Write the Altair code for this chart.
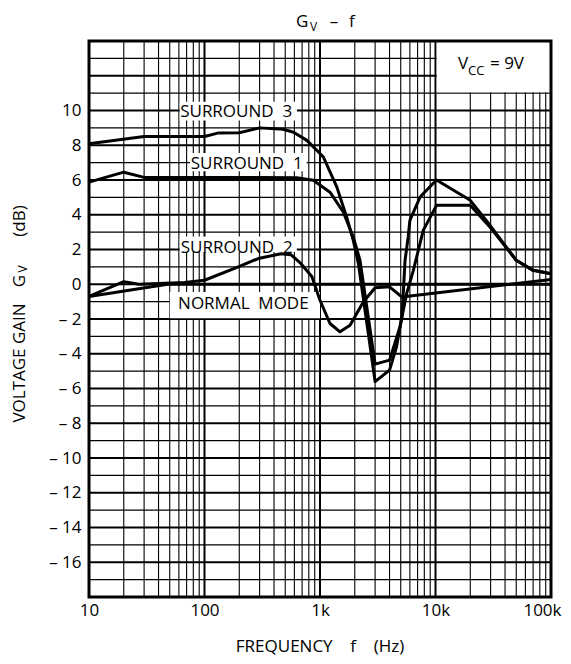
import altair as alt
import pandas as pd

FONT = "Open Sans"

# ---------------- data ----------------
s3_f = [10, 30, 100, 130, 200, 300, 480, 590, 770, 1070, 1400, 1700, 1940, 2150,
        3000, 4000, 4600, 5100, 5260, 5450, 5800, 6000, 7350, 10200, 20000, 30000,
        50000, 70000, 100000]
s3_v = [8.08, 8.5, 8.5, 8.7, 8.72, 9.0, 8.92, 8.75, 8.28, 7.32, 5.59, 3.87, 2.53, 1.19,
        -5.6, -4.94, -3.6, -1.9, -0.53, 1.38, 2.72, 3.68, 5.02, 6.0, 4.83, 3.35,
        1.38, 0.8, 0.61]

s1_f = [10, 20, 30, 100, 300, 630, 875, 1220, 1590, 1940, 2220, 3000, 4000, 4930,
        5630, 6430, 7830, 10200, 20000, 29600, 50000, 70000, 100000]
s1_v = [5.88, 6.45, 6.15, 6.15, 6.15, 6.13, 5.98, 5.3, 4.16, 2.72, 1.38, -4.6, -4.37,
        -2.45, -0.53, 0.8, 3.1, 4.54, 4.54, 3.29, 1.38, 0.8, 0.61]

s2_f = [10, 20, 27, 67, 100, 196, 292, 460, 560, 670, 850, 1000, 1220, 1490, 1820,
        2370, 3000, 4000, 5100, 100000]
s2_v = [-0.7, 0.15, 0.0, 0.1, 0.23, 1.0, 1.48, 1.76, 1.7, 1.25, 0.45, -0.92, -2.26,
        -2.74, -2.36, -1.02, -0.2, -0.15, -0.73, 0.27]

nm_f = [10, 48, 100000]
nm_v = [-0.7, 0.0, 0.0]

x_ticks = [10, 100, 1000, 10000, 100000]
y_ticks = [-16, -14, -12, -10, -8, -6, -4, -2, 0, 2, 4, 6, 8, 10]

decades = [10, 100, 1000, 10000]
mantissas = [1, 2, 3, 4, 5, 6, 7, 8, 9]
y_grid = list(range(-17, 14))

# curve labels: text, centre freq, centre gain, box (f0, f1, v0, v1)
lab_text = ["SURROUND\u00a0\u00a03", "SURROUND\u00a0\u00a01", "SURROUND\u00a0\u00a02", "NORMAL\u00a0\u00a0MODE"]
lab_f = [188, 232, 190, 217]
lab_v = [10.0, 7.0, 2.15, -1.1]
box_f0 = [61, 75, 61, 50]
box_f1 = [632, 766, 630, 1000]
box_v0 = [9.43, 6.5, 1.85, -1.95]
box_v1 = [10.5, 7.55, 2.75, -0.45]

# ---------------- tables ----------------
curves = pd.concat([
    pd.DataFrame({"f": s3_f, "v": s3_v, "s": "S3"}),
    pd.DataFrame({"f": s1_f, "v": s1_v, "s": "S1"}),
    pd.DataFrame({"f": s2_f, "v": s2_v, "s": "S2"}),
    pd.DataFrame({"f": nm_f, "v": nm_v, "s": "NM"}),
], ignore_index=True)
curves["i"] = range(len(curves))

gx_vals, gx_w = [], []
for d in decades:
    for m in mantissas:
        gx_vals.append(d * m)
        gx_w.append(2.0 if m == 1 else 1.1)
gx = pd.DataFrame({"f": gx_vals, "w": gx_w})
gy = pd.DataFrame({"v": y_grid, "w": [2.0 if v % 2 == 0 else 1.1 for v in y_grid]})

labels = pd.DataFrame({"t": lab_text, "f": lab_f, "v": lab_v,
                       "f0": box_f0, "f1": box_f1, "v0": box_v0, "v1": box_v1})
vcc_box = pd.DataFrame({"f0": [10250], "f1": [100000], "v0": [11.05], "v1": [14]})
frame = pd.DataFrame({"f0": [10], "f1": [100000], "v0": [-18], "v1": [14]})

xs = alt.Scale(type="log", domain=[10, 100000], nice=False)
ys = alt.Scale(domain=[-18, 14], nice=False)

x_axis = alt.Axis(values=x_ticks, grid=False, ticks=False, domain=False, title=None,
                  labelFont=FONT, labelFontSize=17, labelColor="black", labelPadding=5,
                  labelFlush=False,
                  labelAlign={"condition": {"test": "datum.value == 100000", "value": "right"},
                              "value": "center"},
                  labelOffset={"condition": {"test": "datum.value == 100000", "value": 10},
                               "value": 0},
                  labelExpr="datum.value >= 1000 ? (datum.value/1000) + 'k' : datum.value")
y_axis = alt.Axis(values=y_ticks, grid=False, ticks=False, domain=False, title=None,
                  labelFont=FONT, labelFontSize=17, labelColor="black", labelPadding=8,
                  labelExpr="datum.value < 0 ? '\u2013 ' + abs(datum.value) : datum.value")

base_x = alt.X("f:Q", scale=xs, axis=x_axis)
base_y = alt.Y("v:Q", scale=ys, axis=y_axis)

grid_v = alt.Chart(gx).mark_rule(color="black").encode(
    x=alt.X("f:Q", scale=xs, axis=x_axis),
    strokeWidth=alt.StrokeWidth("w:Q", scale=None))
grid_h = alt.Chart(gy).mark_rule(color="black").encode(
    y=alt.Y("v:Q", scale=ys, axis=y_axis),
    strokeWidth=alt.StrokeWidth("w:Q", scale=None))

boxes = alt.Chart(labels).mark_rect(color="white").encode(
    x=alt.X("f0:Q", scale=xs, axis=x_axis), x2="f1:Q",
    y=alt.Y("v0:Q", scale=ys, axis=y_axis), y2="v1:Q")
vbox = alt.Chart(vcc_box).mark_rect(color="white").encode(
    x=alt.X("f0:Q", scale=xs, axis=x_axis), x2="f1:Q",
    y=alt.Y("v0:Q", scale=ys, axis=y_axis), y2="v1:Q")

lines = alt.Chart(curves).mark_line(color="black", strokeWidth=3, strokeJoin="round").encode(
    x=base_x, y=base_y, detail="s:N", order="i:Q")

label_text = alt.Chart(labels).mark_text(font=FONT, fontSize=17, color="black",
                                         baseline="middle", dy=1).encode(
    x=base_x, y=base_y, text="t:N")

border = alt.Chart(frame).mark_rect(fillOpacity=0, stroke="black", strokeWidth=3).encode(
    x=alt.X("f0:Q", scale=xs, axis=x_axis), x2="f1:Q",
    y=alt.Y("v0:Q", scale=ys, axis=y_axis), y2="v1:Q")


def txt(s, x, y, size=17, align="left", angle=0, baseline="alphabetic"):
    kw = dict(font=FONT, fontSize=size, color="black", align=align, baseline=baseline)
    if angle:
        kw["angle"] = angle
    return alt.Chart(frame).mark_text(**kw).encode(
        x=alt.value(x), y=alt.value(y), text=alt.value(s))


# positions relative to plot origin (89, 41)
annot = [
    # title  G_V – f
    txt("G", 207, -14, size=17),
    txt("V", 221, -10, size=12),
    txt("\u2013", 245, -14, size=17, align="center"),
    txt("f", 260, -14, size=17),
    # V_CC = 9V
    txt("V", 369, 28, size=17),
    txt("CC", 379, 34, size=13),
    txt("=\u00a09V", 401, 28, size=17),
    # x title
    txt("FREQUENCY\u00a0\u00a0\u00a0\u00a0f\u00a0\u00a0\u00a0\u00a0(Hz)", 231, 611, size=17, align="center"),
    # y title (rotated)
    txt("VOLTAGE\u00a0GAIN", -69, 322, size=17, align="center", angle=270, baseline="middle"),
    txt("G", -69, 240, size=17, align="center", angle=270, baseline="middle"),
    txt("V", -66, 228, size=12, align="center", angle=270, baseline="middle"),
    txt("(dB)", -69, 180, size=17, align="center", angle=270, baseline="middle"),
]

chart = alt.layer(grid_v, grid_h, vbox, boxes, lines, label_text, border, *annot).properties(
    width=462, height=556,
    padding={"left": 81, "top": 33, "right": 12, "bottom": 59},
    autosize=alt.AutoSizeParams(type="none"),
    background="white",
).configure_view(stroke=None)

chart.save("out.html", embed_options={"renderer": "svg", "actions": False})
